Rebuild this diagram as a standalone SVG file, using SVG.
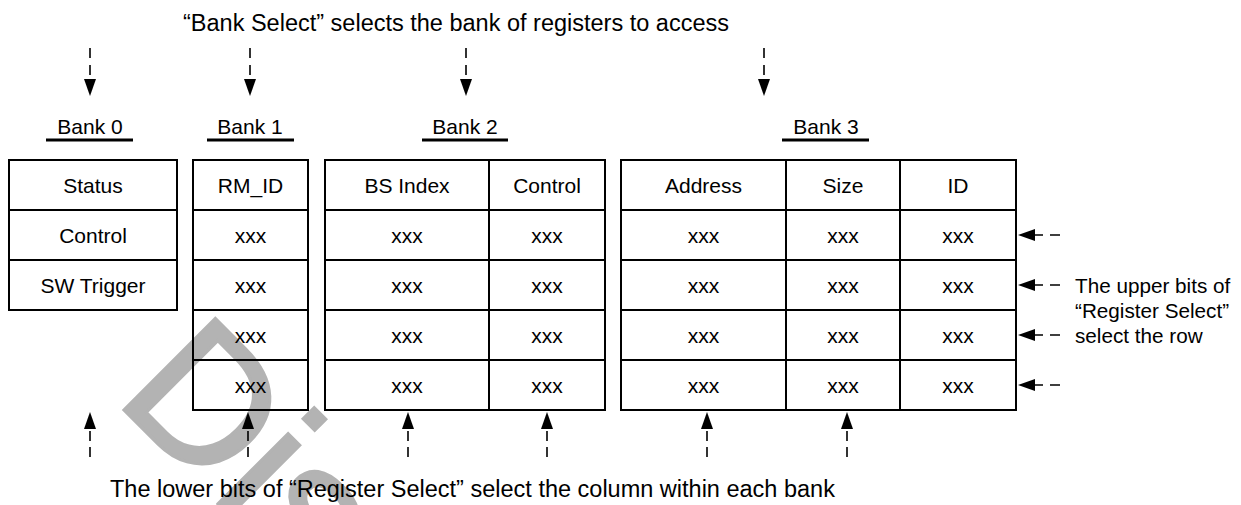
<svg xmlns="http://www.w3.org/2000/svg" width="1241" height="505" viewBox="0 0 1241 505">
<style>
text{font-family:"Liberation Sans",Arial,sans-serif;fill:#000}
.cell{font-size:21px;text-anchor:middle}
.big{font-size:23.5px}
.side{font-size:20.7px}
.tbl{fill:none;stroke:#000;stroke-width:2}
.ul{stroke:#000;stroke-width:3}
.dash{stroke:#000;stroke-width:1.6;stroke-dasharray:10 7;fill:none;marker-end:url(#ah)}
.dashb{stroke:#000;stroke-width:1.6;stroke-dasharray:10 6;fill:none;marker-end:url(#ah)}
text.wm{font-size:188px;fill:#b3b3b3;stroke:#b3b3b3;stroke-width:3}
</style>
<defs>
<marker id="ah" viewBox="0 0 17 12" refX="0" refY="6" markerWidth="17" markerHeight="12" markerUnits="userSpaceOnUse" orient="auto">
<path d="M0,0 L17,6 L0,12 z" fill="#000"/>
</marker>
</defs>
<rect width="1241" height="505" fill="#fff"/>
<text class="wm" transform="translate(113,399) rotate(45)">Dis</text>

<text class="big" x="183" y="31">“Bank Select” selects the bank of registers to access</text>
<text class="big" x="110" y="497">The lower bits of “Register Select” select the column within each bank</text>
<g id="side-label">
<text class="side" x="1075" y="293">The upper bits of</text>
<text class="side" x="1075" y="318">“Register Select”</text>
<text class="side" x="1075" y="343">select the row</text>
</g>

<g id="bank0">
<text class="cell" x="90" y="134">Bank 0</text>
<line class="ul" x1="46" y1="140" x2="133" y2="140"/>
<rect class="tbl" x="9" y="160" width="168" height="150"/>
<path class="tbl" d="M9,210H177M9,260H177"/>
<text class="cell" x="93" y="192.5">Status</text>
<text class="cell" x="93" y="242.5">Control</text>
<text class="cell" x="93" y="292.5">SW Trigger</text>
</g>

<g id="bank1">
<text class="cell" x="250" y="134">Bank 1</text>
<line class="ul" x1="207" y1="140" x2="294" y2="140"/>
<rect class="tbl" x="193" y="160" width="115" height="250"/>
<path class="tbl" d="M193,210H308M193,260H308M193,310H308M193,360H308"/>
<text class="cell" x="250.5" y="192.5">RM_ID</text>
<text class="cell" x="250.5" y="242.5">xxx</text>
<text class="cell" x="250.5" y="292.5">xxx</text>
<text class="cell" x="250.5" y="342.5">xxx</text>
<text class="cell" x="250.5" y="392.5">xxx</text>
</g>

<g id="bank2">
<text class="cell" x="465" y="134">Bank 2</text>
<line class="ul" x1="422" y1="140" x2="508" y2="140"/>
<rect class="tbl" x="325" y="160" width="280" height="250"/>
<path class="tbl" d="M325,210H605M325,260H605M325,310H605M325,360H605M489,160V410"/>
<text class="cell" x="407" y="192.5">BS Index</text>
<text class="cell" x="547" y="192.5">Control</text>
<text class="cell" x="407" y="242.5">xxx</text><text class="cell" x="547" y="242.5">xxx</text>
<text class="cell" x="407" y="292.5">xxx</text><text class="cell" x="547" y="292.5">xxx</text>
<text class="cell" x="407" y="342.5">xxx</text><text class="cell" x="547" y="342.5">xxx</text>
<text class="cell" x="407" y="392.5">xxx</text><text class="cell" x="547" y="392.5">xxx</text>
</g>

<g id="bank3">
<text class="cell" x="826" y="134">Bank 3</text>
<line class="ul" x1="782" y1="140" x2="869" y2="140"/>
<rect class="tbl" x="621" y="160" width="395" height="250"/>
<path class="tbl" d="M621,210H1016M621,260H1016M621,310H1016M621,360H1016M786,160V410M900,160V410"/>
<text class="cell" x="703.5" y="192.5">Address</text>
<text class="cell" x="843" y="192.5">Size</text>
<text class="cell" x="958" y="192.5">ID</text>
<text class="cell" x="703.5" y="242.5">xxx</text><text class="cell" x="843" y="242.5">xxx</text><text class="cell" x="958" y="242.5">xxx</text>
<text class="cell" x="703.5" y="292.5">xxx</text><text class="cell" x="843" y="292.5">xxx</text><text class="cell" x="958" y="292.5">xxx</text>
<text class="cell" x="703.5" y="342.5">xxx</text><text class="cell" x="843" y="342.5">xxx</text><text class="cell" x="958" y="342.5">xxx</text>
<text class="cell" x="703.5" y="392.5">xxx</text><text class="cell" x="843" y="392.5">xxx</text><text class="cell" x="958" y="392.5">xxx</text>
</g>

<g id="connectors">
<line class="dash" x1="90" y1="48" x2="90" y2="79"/>
<line class="dash" x1="250" y1="48" x2="250" y2="79"/>
<line class="dash" x1="466" y1="48" x2="466" y2="79"/>
<line class="dash" x1="764" y1="48" x2="764" y2="79"/>
<line class="dashb" x1="90" y1="457" x2="90" y2="429"/>
<line class="dashb" x1="248" y1="457" x2="248" y2="429"/>
<line class="dashb" x1="408" y1="457" x2="408" y2="429"/>
<line class="dashb" x1="547" y1="457" x2="547" y2="429"/>
<line class="dashb" x1="707" y1="457" x2="707" y2="429"/>
<line class="dashb" x1="847" y1="457" x2="847" y2="429"/>
<line class="dash" x1="1060" y1="235" x2="1035" y2="235"/>
<line class="dash" x1="1060" y1="285" x2="1035" y2="285"/>
<line class="dash" x1="1060" y1="335" x2="1035" y2="335"/>
<line class="dash" x1="1060" y1="385" x2="1035" y2="385"/>
</g>
</svg>
